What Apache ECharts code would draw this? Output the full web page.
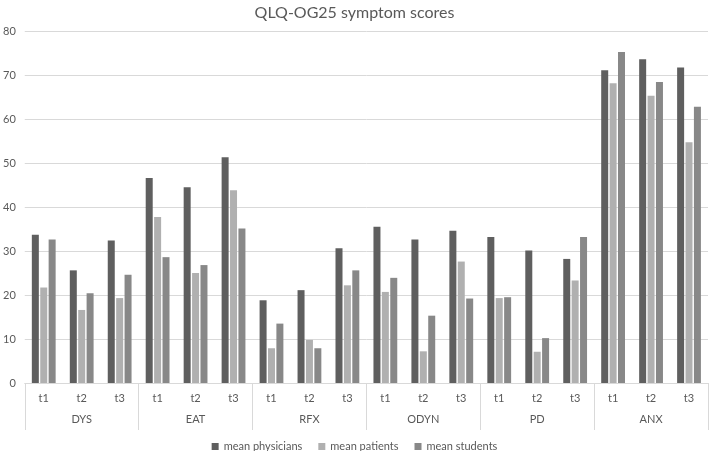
<!DOCTYPE html>
<html>
<head>
<meta charset="utf-8">
<script src="https://cdn.jsdelivr.net/npm/echarts@6/dist/echarts.min.js"></script>
<style>html,body{margin:0;padding:0;background:#fff;}#c{width:709px;height:451px;}</style>
</head>
<body>
<div id="c"></div>
<script>
var groups = ['DYS', 'EAT', 'RFX', 'ODYN', 'PD', 'ANX'];
var times = ['t1', 't2', 't3'];
var physicians = [33.7, 25.6, 32.4, 46.6, 44.5, 51.3, 18.8, 21.1, 30.6, 35.5, 32.6, 34.6, 33.2, 30.1, 28.2, 71.1, 73.6, 71.7];
var patients   = [21.7, 16.6, 19.3, 37.7, 25.0, 43.8, 7.9, 9.8, 22.2, 20.7, 7.2, 27.6, 19.3, 7.1, 23.3, 68.1, 65.3, 54.7];
var students   = [32.6, 20.4, 24.6, 28.6, 26.8, 35.1, 13.5, 7.9, 25.6, 23.9, 15.3, 19.2, 19.5, 10.2, 33.2, 75.2, 68.4, 62.8];
var seriesNames = ['mean physicians', 'mean patients', 'mean students'];
var yTicks = [0, 10, 20, 30, 40, 50, 60, 70, 80];

var cats = [];
groups.forEach(function (g) { times.forEach(function (t) { cats.push(t); }); });

var font = 'Lato, "Open Sans", sans-serif';
var txt = '#595959';
var chart = echarts.init(document.getElementById('c'));
chart.setOption({
  animation: false,
  textStyle: { fontFamily: font },
  title: {
    text: 'QLQ-OG25 symptom scores',
    left: 'center', top: 0,
    textStyle: { fontFamily: font, fontSize: 16, fontWeight: 'normal', color: txt }
  },
  grid: { left: 23, right: 1, top: 31, bottom: 68, containLabel: false },
  legend: {
    top: 436, left: 'center',
    itemWidth: 7, itemHeight: 7, itemGap: 16,
    icon: 'rect',
    textStyle: { fontFamily: font, fontSize: 11, color: txt },
    data: seriesNames
  },
  xAxis: [
    {
      type: 'category', data: cats, position: 'bottom',
      axisLine: { show: true, lineStyle: { color: '#d9d9d9' } },
      axisTick: { show: false },
      axisLabel: { margin: 10, fontSize: 11, color: txt, fontFamily: font, interval: 0 }
    },
    {
      type: 'category', data: groups, position: 'bottom',
      axisLine: { show: false },
      axisTick: { show: true, length: 47, lineStyle: { color: '#d9d9d9' } },
      axisLabel: { margin: 31, fontSize: 11, color: txt, fontFamily: font, interval: 0 }
    }
  ],
  yAxis: {
    type: 'value', min: yTicks[0], max: yTicks[yTicks.length - 1], interval: 10,
    axisLine: { show: false }, axisTick: { show: false },
    axisLabel: { margin: 9, fontSize: 11, color: txt, fontFamily: font },
    splitLine: { lineStyle: { color: '#d9d9d9' } }
  },
  series: [
    { name: seriesNames[0], type: 'bar', data: physicians, barWidth: 7, barGap: '20%', itemStyle: { color: '#5f5f5f' } },
    { name: seriesNames[1], type: 'bar', data: patients, barWidth: 7, barGap: '20%', itemStyle: { color: '#b0b0b0' } },
    { name: seriesNames[2], type: 'bar', data: students, barWidth: 7, barGap: '20%', itemStyle: { color: '#888888' } }
  ]
});
</script>
</body>
</html>
